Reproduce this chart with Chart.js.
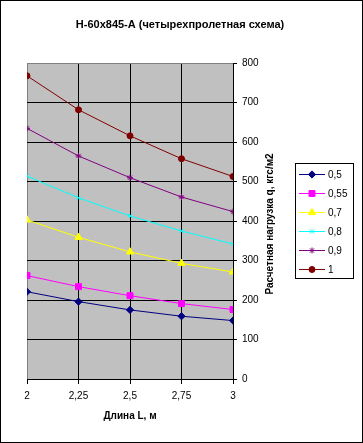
<!DOCTYPE html>
<html>
<head>
<meta charset="utf-8">
<script src="https://cdn.jsdelivr.net/npm/chart.js@4.4.0/dist/chart.umd.min.js"></script>
<style>
html, body { margin: 0; padding: 0; background: #fff; }
#wrap { width: 363px; height: 443px; }
</style>
</head>
<body>
<div id="wrap"><canvas id="loadChart" width="363" height="443"></canvas></div>
<script>
// Длина L, м
const lengths = [2, 2.25, 2.5, 2.75, 3];

// Расчетная нагрузка q по сериям
const q050 = [221, 196, 175, 159, 148];
const q055 = [262, 234, 211, 191, 176];
const q070 = [403, 359, 322, 293, 271];
const q080 = [514, 459, 413, 375, 342];
const q090 = [635, 565, 510, 461, 424];
const q100 = [768, 682, 616, 558, 513];

const seriesNames = ['0,5', '0,55', '0,7', '0,8', '0,9', '1'];
const seriesValues = [q050, q055, q070, q080, q090, q100];
const seriesColors = ['#000080', '#FF00FF', '#FFFF00', '#00FFFF', '#800080', '#800000'];
const seriesMarkers = ['rectRot', 'rect', 'triangle', 'crossRot', 'star', 'circle'];
const markerSizes = [3.6, 4.2, 4.2, 3, 3, 3];

const FONT = "'Liberation Sans', Arial, sans-serif";
Chart.defaults.font.family = FONT;
Chart.defaults.color = '#000';

const datasets = seriesNames.map((name, i) => ({
    label: name,
    data: lengths.map((x, j) => ({ x: x, y: seriesValues[i][j] })),
    borderColor: seriesColors[i],
    backgroundColor: seriesColors[i],
    pointBackgroundColor: seriesColors[i],
    pointBorderColor: seriesColors[i],
    pointStyle: seriesMarkers[i],
    pointRadius: markerSizes[i],
    pointBorderWidth: 1,
    borderWidth: 1,
    tension: 0,
    fill: false
}));

// серый фон области построения, рамка, легенда и подпись оси Y
const excelLook = {
    id: 'excelLook',
    beforeDraw(chart) {
        const { ctx, chartArea: a } = chart;
        ctx.save();
        ctx.fillStyle = '#C0C0C0';
        ctx.fillRect(a.left, a.top, a.right - a.left, a.bottom - a.top);
        ctx.restore();
    },
    afterDraw(chart) {
        const ctx = chart.ctx;
        ctx.save();

        // y axis title, reads bottom to top
        ctx.translate(270, 224);
        ctx.rotate(-Math.PI / 2);
        ctx.font = 'bold 10px ' + FONT;
        ctx.fillStyle = '#000';
        ctx.textAlign = 'center';
        ctx.textBaseline = 'middle';
        ctx.fillText('Расчетная нагрузка q, кгс/м2', 0, 0);
        ctx.setTransform(1, 0, 0, 1, 0, 0);

        // legend box
        ctx.fillStyle = '#fff';
        ctx.fillRect(295, 163, 58, 115);
        ctx.strokeStyle = '#000';
        ctx.lineWidth = 1;
        ctx.strokeRect(295.5, 163.5, 58, 115);

        chart.data.datasets.forEach((ds, i) => {
            const y = 174 + i * 19;
            ctx.strokeStyle = ds.borderColor;
            ctx.fillStyle = ds.borderColor;
            ctx.lineWidth = 1;
            ctx.beginPath();
            ctx.moveTo(299, y + 0.5);
            ctx.lineTo(325, y + 0.5);
            ctx.stroke();
            Chart.helpers.drawPoint(ctx, {
                pointStyle: ds.pointStyle,
                radius: ds.pointRadius,
                rotation: 0,
                borderWidth: 1
            }, 312, y + 0.5);
            ctx.fillStyle = '#000';
            ctx.font = '10px ' + FONT;
            ctx.textAlign = 'left';
            ctx.textBaseline = 'middle';
            ctx.fillText(ds.label, 328, y + 1);
        });

        // outer frame
        ctx.strokeStyle = '#000';
        ctx.strokeRect(0.5, 0.5, 362, 442);
        ctx.restore();
    }
};

const chart = new Chart(document.getElementById('loadChart').getContext('2d'), {
    type: 'line',
    data: { datasets: datasets },
    plugins: [excelLook],
    options: {
        responsive: false,
        animation: false,
        devicePixelRatio: 1,
        layout: { padding: { top: 0, left: 27, right: 30, bottom: 0 } },
        plugins: {
            legend: { display: false },
            tooltip: { enabled: false },
            title: {
                display: true,
                text: 'Н-60х845-А (четырехпролетная схема)',
                color: '#000',
                font: { family: FONT, size: 11, weight: 'bold' },
                padding: { top: 18, bottom: 32 }
            }
        },
        scales: {
            x: {
                type: 'linear',
                min: 2,
                max: 3,
                afterFit: scale => { scale.height = 64; },
                ticks: {
                    stepSize: 0.25,
                    padding: 6,
                    font: { size: 10 },
                    maxRotation: 0,
                    callback: v => String(v).replace('.', ',')
                },
                grid: {
                    color: ctx => (ctx.tick && ctx.tick.value === 2) ? '#808080' : '#000',
                    tickColor: '#000',
                    tickLength: 5,
                    lineWidth: 1
                },
                border: { color: '#000', width: 1 },
                title: {
                    display: true,
                    text: 'Длина L, м',
                    color: '#000',
                    font: { size: 10, weight: 'bold' },
                    padding: { top: 0, bottom: 21 }
                }
            },
            y: {
                position: 'right',
                min: 0,
                max: 800,
                afterFit: scale => { scale.width = 100; },
                ticks: {
                    stepSize: 100,
                    padding: 5,
                    font: { size: 10 }
                },
                grid: {
                    color: ctx => (ctx.tick && ctx.tick.value === 800) ? '#808080' : '#000',
                    tickColor: '#000',
                    tickLength: 4,
                    lineWidth: 1
                },
                border: { color: '#000', width: 1 }
            }
        }
    }
});
</script>
</body>
</html>
